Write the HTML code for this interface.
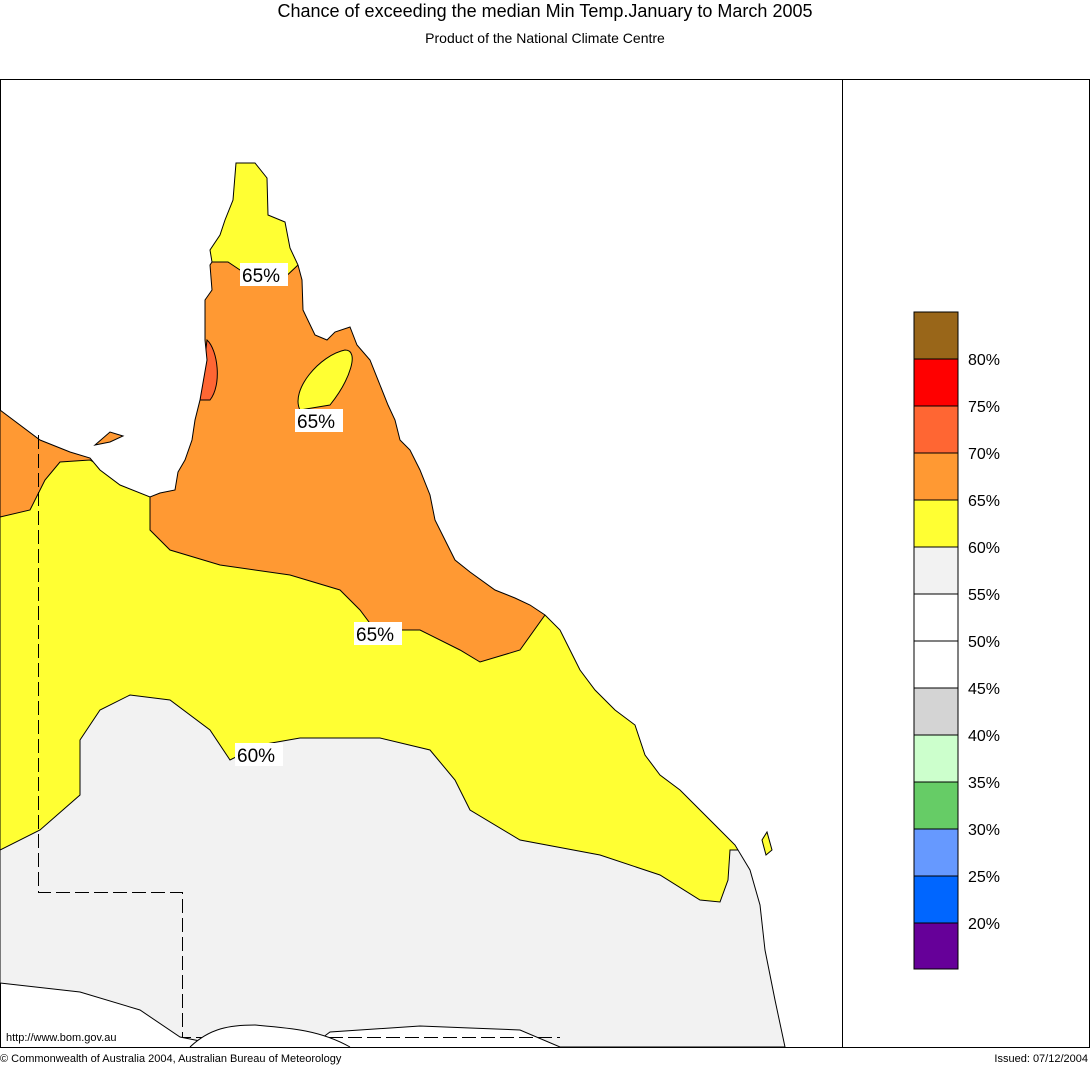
<!DOCTYPE html>
<html><head><style>
body{margin:0;background:#fff;width:1090px;height:1066px;overflow:hidden;font-family:"Liberation Sans",sans-serif}
</style></head><body>
<svg width="1090" height="1066" xmlns="http://www.w3.org/2000/svg" font-family="Liberation Sans, sans-serif">
<defs>
<clipPath id="land"><path id="lp" d="M0,410 L40,440 L70,452 L90,458 L100,470 L120,485 L150,497 L160,493 L175,490 L178,472 L185,460 L192,440 L195,420 L200,400 L207,360 L205,340 L205,300 L212,290 L210,265 L212,262 L210,250 L220,235 L225,220 L233,200 L236,163 L255,163 L267,178 L268,215 L285,222 L290,248 L298,265 L302,280 L303,310 L315,335 L327,340 L335,332 L350,327 L357,345 L370,360 L380,385 L388,405 L395,420 L400,440 L410,450 L420,470 L430,495 L435,520 L445,540 L455,560 L470,572 L495,590 L515,598 L530,605 L545,615 L560,630 L570,650 L580,670 L595,690 L615,710 L635,725 L645,755 L660,775 L680,790 L700,810 L715,825 L735,845 L750,870 L760,905 L765,950 L775,1000 L785,1047 L560,1047 L520,1030 L470,1028 L420,1026 L330,1032 L310,1047 L230,1047 L180,1037 L140,1010 L80,992 L0,983 Z"/></clipPath>
</defs>
<text x="545" y="17" text-anchor="middle" font-size="18">Chance of exceeding the median Min Temp.January to March 2005</text>
<text x="545" y="43" text-anchor="middle" font-size="14">Product of the National Climate Centre</text>
<rect x="0.5" y="79.5" width="1089" height="968" fill="none" stroke="#000"/>
<line x1="842.5" y1="79" x2="842.5" y2="1047" stroke="#000"/>
<g clip-path="url(#land)">
<rect x="0" y="80" width="842" height="967" fill="#f2f2f2"/>
<path d="M0,850 L40,830 L80,795 L80,740 L100,710 L130,695 L170,700 L210,730 L230,760 L260,745 L300,738 L380,738 L430,750 L455,780 L470,810 L520,840 L600,855 L660,875 L700,900 L720,902 L728,880 L730,850 L900,850 L900,80 L0,80 Z" fill="#ffff33" stroke="#000"/>
<path d="M0,517 L30,510 L45,480 L60,462 L90,460 L150,495 L150,530 L170,550 L220,565 L290,575 L340,590 L360,610 L375,630 L420,630 L460,650 L480,662 L520,650 L545,615 L900,615 L900,80 L310,80 L298,265 L280,282 L260,285 L240,270 L228,262 L200,262 L0,262 Z" fill="#ff9933" stroke="#000"/>
<path d="M300,410 C290,390 320,355 345,350 C360,350 350,380 330,405 Z" fill="#ffff33" stroke="#000"/>
<path d="M207,340 C218,350 222,385 210,400 L200,400 Z" fill="#ff6633" stroke="#000"/>
</g>
<use href="#lp" fill="none" stroke="#000"/>
<path d="M95,445 L110,432 L123,436 L110,442 Z" fill="#ff9933" stroke="#000"/>
<path d="M762,840 L767,832 L772,850 L766,855 Z" fill="#ffff33" stroke="#000"/>
<g fill="none" stroke="#000" stroke-dasharray="14,5" shape-rendering="crispEdges">
<path d="M38.5,435 V892.5 H182.5 V1037.5 H560"/>
</g>
<path d="M190,1047 C210,1028 230,1025 255,1025 C290,1028 320,1030 350,1047" fill="#fff" stroke="#000"/>
<g font-size="19">
<rect x="240" y="263" width="48" height="23" fill="#fff"/><text x="242" y="282">65%</text>
<rect x="295" y="409" width="48" height="23" fill="#fff"/><text x="297" y="428">65%</text>
<rect x="354" y="622" width="48" height="23" fill="#fff"/><text x="356" y="641">65%</text>
<rect x="235" y="743" width="48" height="23" fill="#fff"/><text x="237" y="762">60%</text>
</g>
<g stroke="#000">
<rect x="914" y="312" width="44" height="47" fill="#996619"/>
<rect x="914" y="359" width="44" height="47" fill="#ff0000"/>
<rect x="914" y="406" width="44" height="47" fill="#ff6633"/>
<rect x="914" y="453" width="44" height="47" fill="#ff9933"/>
<rect x="914" y="500" width="44" height="47" fill="#ffff33"/>
<rect x="914" y="547" width="44" height="47" fill="#f2f2f2"/>
<rect x="914" y="594" width="44" height="47" fill="#ffffff"/>
<rect x="914" y="641" width="44" height="47" fill="#ffffff"/>
<rect x="914" y="688" width="44" height="47" fill="#d4d4d4"/>
<rect x="914" y="735" width="44" height="47" fill="#ccffcc"/>
<rect x="914" y="782" width="44" height="47" fill="#66cc66"/>
<rect x="914" y="829" width="44" height="47" fill="#6699ff"/>
<rect x="914" y="876" width="44" height="47" fill="#0066ff"/>
<rect x="914" y="923" width="44" height="46" fill="#660099"/>
</g>
<g font-size="16">
<text x="968" y="365">80%</text><text x="968" y="412">75%</text><text x="968" y="459">70%</text>
<text x="968" y="506">65%</text><text x="968" y="553">60%</text><text x="968" y="600">55%</text>
<text x="968" y="647">50%</text><text x="968" y="694">45%</text><text x="968" y="741">40%</text>
<text x="968" y="788">35%</text><text x="968" y="835">30%</text><text x="968" y="882">25%</text>
<text x="968" y="929">20%</text>
</g>
<text x="6" y="1041" font-size="11">http://www.bom.gov.au</text>
<text x="0" y="1062" font-size="11">© Commonwealth of Australia 2004, Australian Bureau of Meteorology</text>
<text x="1088" y="1062" font-size="11" text-anchor="end">Issued: 07/12/2004</text>
</svg>
</body></html>
